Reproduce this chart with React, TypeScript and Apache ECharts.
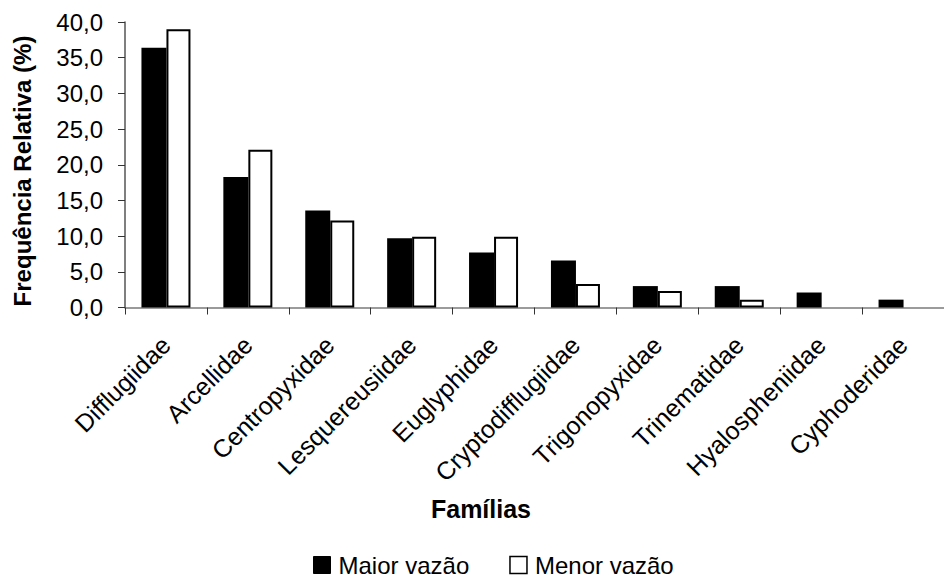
import React, { useEffect, useRef } from "react";
import * as echarts from "echarts";

const categories = [
  "Difflugiidae",
  "Arcellidae",
  "Centropyxidae",
  "Lesquereusiidae",
  "Euglyphidae",
  "Cryptodifflugiidae",
  "Trigonopyxidae",
  "Trinematidae",
  "Hyalospheniidae",
  "Cyphoderidae",
];
const maiorVazao = [36.4, 18.3, 13.6, 9.7, 7.7, 6.6, 3.0, 3.0, 2.1, 1.1];
const menorVazao = [39.0, 22.1, 12.2, 9.9, 9.9, 3.3, 2.3, 1.1, 0, 0];
const seriesNames = ["Maior vazão", "Menor vazão"];

const FONT = "'Liberation Sans', Arial, Helvetica, sans-serif";

export default function App() {
  const ref = useRef<HTMLDivElement>(null);
  useEffect(() => {
    if (!ref.current) return;
    const chart = echarts.init(ref.current, null, { renderer: "svg" });
    const withBorder = (arr: number[]) =>
      arr.map((v) => (v === 0 ? { value: v, itemStyle: { borderWidth: 0 } } : v));
    chart.setOption({
      animation: false,
      backgroundColor: "#ffffff",
      textStyle: { fontFamily: FONT },
      grid: { left: 125, top: 22, width: 830, height: 285.5, containLabel: false },
      legend: {
        left: 313,
        top: 553,
        padding: 0,
        itemWidth: 17,
        itemHeight: 17,
        itemGap: 40,
        icon: "rect",
        textStyle: { fontFamily: FONT, fontSize: 24, color: "#000", padding: [0, 0, 0, 3] },
        data: [
          { name: seriesNames[0], itemStyle: { color: "#000", borderColor: "#000", borderWidth: 1 } },
          { name: seriesNames[1], itemStyle: { color: "#fff", borderColor: "#000", borderWidth: 1.5 } },
        ],
      },
      xAxis: {
        type: "category",
        data: categories,
        boundaryGap: true,
        axisLine: { show: true, lineStyle: { color: "#7a7a7a", width: 1.5 } },
        axisTick: { show: true, length: 7, lineStyle: { color: "#333", width: 1 } },
        axisLabel: {
          rotate: 45,
          interval: 0,
          margin: 33,
          fontFamily: FONT,
          fontSize: 25,
          color: "#000",
        },
        splitLine: { show: false },
      },
      yAxis: {
        type: "value",
        min: 0,
        max: 40,
        interval: 5,
        axisLine: { show: true, lineStyle: { color: "#555", width: 1.5 } },
        axisTick: { show: true, length: 7, lineStyle: { color: "#333", width: 1 } },
        axisLabel: {
          margin: 22,
          fontFamily: FONT,
          fontSize: 24,
          color: "#000",
          formatter: (v: number) => v.toFixed(1).replace(".", ","),
        },
        splitLine: { show: false },
      },
      graphic: [
        {
          type: "text",
          x: 22,
          y: 171,
          rotation: Math.PI / 2,
          style: {
            text: "Frequência Relativa (%)",
            fontFamily: FONT,
            fontSize: 24,
            fontWeight: "bold",
            fill: "#000",
            align: "center",
            verticalAlign: "middle",
          },
        },
        {
          type: "text",
          x: 481,
          y: 509,
          style: {
            text: "Famílias",
            fontFamily: FONT,
            fontSize: 25,
            fontWeight: "bold",
            fill: "#000",
            align: "center",
            verticalAlign: "middle",
          },
        },
      ],
      series: [
        {
          name: seriesNames[0],
          type: "bar",
          data: maiorVazao,
          barWidth: 25,
          barGap: "0%",
          itemStyle: { color: "#000", borderColor: "#000", borderWidth: 0 },
        },
        {
          name: seriesNames[1],
          type: "bar",
          data: withBorder(menorVazao),
          barWidth: 24,
          barGap: "0%",
          itemStyle: { color: "#fff", borderColor: "#000", borderWidth: 2 },
        },
      ],
    });
    return () => chart.dispose();
  }, []);
  return <div ref={ref} style={{ width: 944, height: 577, position: "absolute", left: 0, top: 0 }} />;
}
